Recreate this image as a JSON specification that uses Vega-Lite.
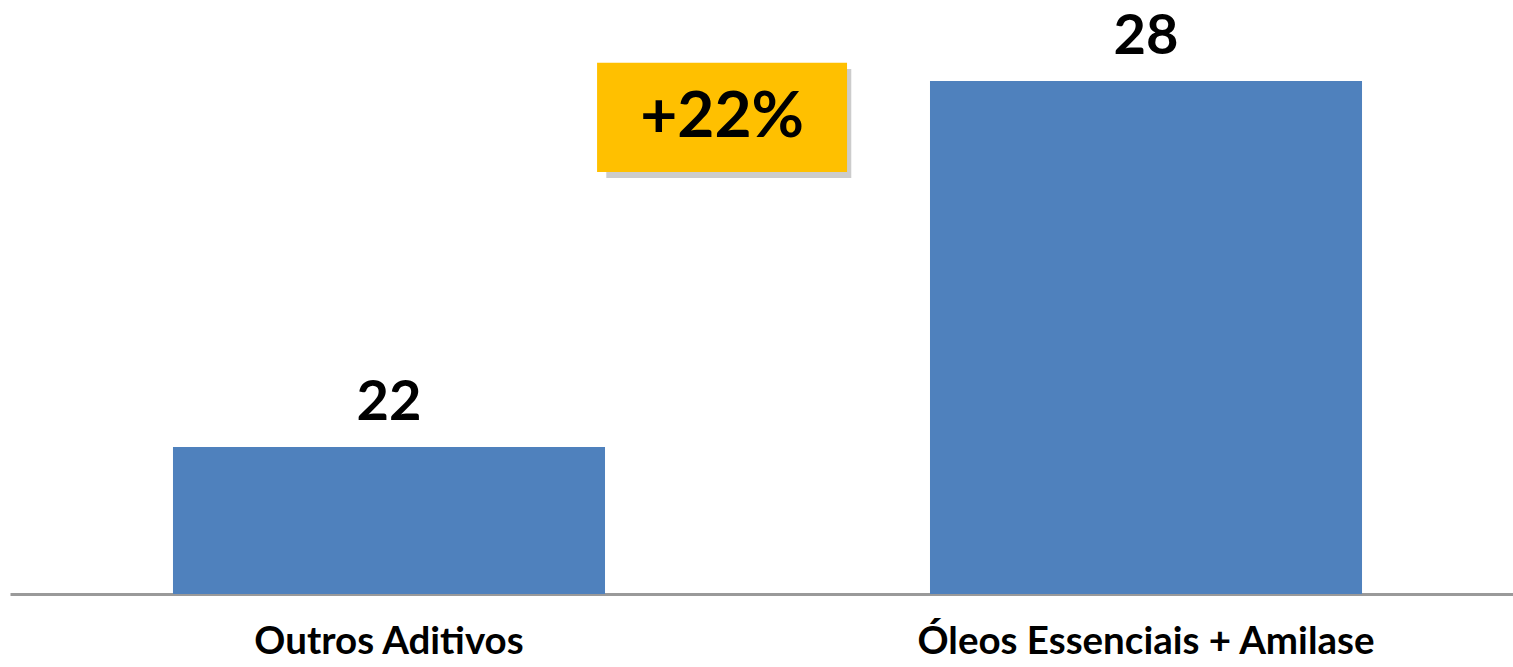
{
  "$schema": "https://vega.github.io/schema/vega-lite/v6.json",
  "width": 1515,
  "height": 594,
  "autosize": {"type": "none"},
  "padding": {"left": 10, "top": 0, "right": 0, "bottom": 73},
  "background": "white",
  "config": {"view": {"stroke": null}, "font": "Lato"},
  "data": {"values": [
    {"grupo": "Outros Aditivos", "valor": 22},
    {"grupo": "Óleos Essenciais + Amilase", "valor": 28}
  ]},
  "resolve": {"scale": {"x": "independent"}},
  "layer": [
    {
      "encoding": {
        "x": {"field": "grupo", "type": "nominal", "sort": null,
          "scale": {"paddingInner": 0.4293, "paddingOuter": 0.2153},
          "axis": {"title": null, "labelAngle": 0, "ticks": false, "domainColor": "#9a9a9a", "domainWidth": 3,
            "labelFontSize": 38.5, "labelFontWeight": "bold", "labelColor": "black", "labelPadding": 29, "labelFont": "Lato", "labelLimit": 800}},
        "y": {"field": "valor", "type": "quantitative",
          "scale": {"domain": [19.59, 29.33], "zero": false, "nice": false}, "axis": null}
      },
      "layer": [
        {"mark": {"type": "bar", "color": "#4F81BD"}, "encoding": {"y2": {"datum": 19.59}}},
        {"mark": {"type": "text", "baseline": "alphabetic", "dy": -27, "fontSize": 56, "fontWeight": "bold", "color": "black"},
          "encoding": {"text": {"field": "valor", "type": "quantitative", "format": ".0f"}}}
      ]
    },
    {
      "data": {"values": [{"rotulo": "+22%"}]},
      "layer": [
        {"mark": {"type": "rect", "color": "#808080", "opacity": 0.4},
          "encoding": {
            "x": {"datum": 0.3936, "type": "quantitative", "scale": {"domain": [0, 1], "nice": false, "zero": false}, "axis": null},
            "x2": {"datum": 0.5553},
            "y": {"datum": 28.2, "type": "quantitative"},
            "y2": {"datum": 26.41}
          }},
        {"mark": {"type": "rect", "color": "#FFC000"},
          "encoding": {
            "x": {"datum": 0.3875, "type": "quantitative", "scale": {"domain": [0, 1], "nice": false, "zero": false}, "axis": null},
            "x2": {"datum": 0.5525},
            "y": {"datum": 28.3, "type": "quantitative"},
            "y2": {"datum": 26.51}
          }},
        {"mark": {"type": "text", "baseline": "middle", "align": "center", "fontSize": 64, "fontWeight": "bold", "color": "black"},
          "encoding": {
            "x": {"datum": 0.4700, "type": "quantitative", "scale": {"domain": [0, 1], "nice": false, "zero": false}, "axis": null},
            "y": {"datum": 27.4, "type": "quantitative"},
            "text": {"field": "rotulo", "type": "nominal"}
          }}
      ]
    }
  ]
}
